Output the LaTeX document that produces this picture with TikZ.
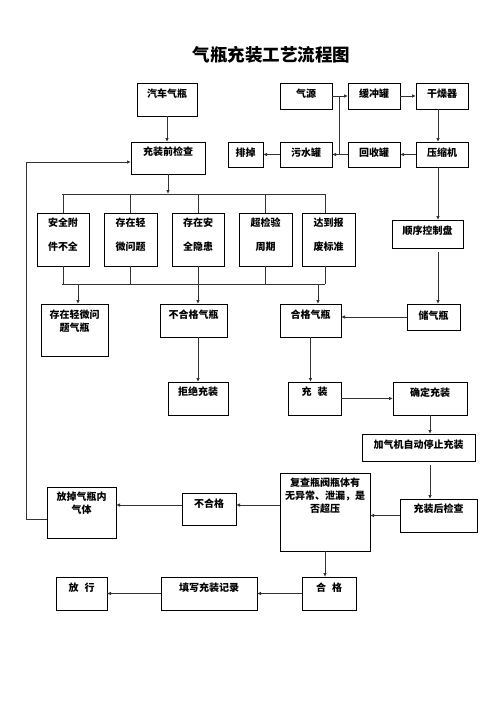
\documentclass[tikz,border=0pt]{standalone}
\usepackage{fontspec}
\setmainfont{Noto Sans CJK SC}
\usetikzlibrary{arrows.meta}
\newcommand\bx[7]{%
  \node[box,anchor=north west,minimum width={(#4-#2)*1pt},minimum height={(#5-#3)*1pt}] (#1) at (#2,#3) {};
  \node[txt] (#1t) at ({(#2+#4)/2},#6) {#7};}
\begin{document}
\begin{tikzpicture}[x=1pt,y=-1pt,
  box/.style={draw=black,line width=0.8pt,inner sep=0pt,outer sep=0pt,fill=white},
  txt/.style={inner sep=0pt,font=\fontsize{10}{13}\selectfont\bfseries,align=center},
  arr/.style={draw=black!80,line width=0.8pt,-{Latex[length=4pt,width=3.5pt]}},
  ln/.style={draw=black!80,line width=0.8pt}]
\useasboundingbox[fill=white] (0,0) rectangle (496,702);
\node[font=\fontsize{17.5}{20}\selectfont\bfseries] (title) at (271.5,55) {气瓶充装工艺流程图};
\bx{qiche}{137}{83}{197}{116}{94}{汽车气瓶}
\bx{jc}{131}{142}{205}{174}{152}{充装前检查}
\bx{paidiao}{228}{142}{263}{167}{153}{排掉}
\bx{qiyuan}{280}{83}{332}{109}{94}{气源}
\bx{hcg}{348}{83}{400}{109}{94}{缓冲罐}
\bx{gzq}{416}{83}{468}{109}{94}{干燥器}
\bx{wsg}{280}{142}{332}{167}{153}{污水罐}
\bx{hsg}{348}{142}{400}{167}{153}{回收罐}
\bx{ysj}{416}{142}{468}{167}{153}{压缩机}
\bx{sxk}{392}{220}{463}{248}{231}{顺序控制盘}
\bx{cqp}{407}{304}{460}{330}{316}{储气瓶}
\bx{ma}{37}{213}{89}{266}{235}{安全附\\[11pt]件不全}
\bx{mb}{104}{213}{157}{266}{235}{存在轻\\[11pt]微问题}
\bx{mc}{172}{213}{224}{266}{235}{存在安\\[11pt]全隐患}
\bx{md}{239}{213}{292}{266}{235}{超检验\\[11pt]周期}
\bx{me}{302}{213}{355}{266}{235}{达到报\\[11pt]废标准}
\bx{qw}{41}{304}{108}{356}{321}{存在轻微问\\题气瓶}
\bx{bhg}{160}{304}{227}{337}{315}{不合格气瓶}
\bx{hg}{280}{304}{341}{337}{315}{合格气瓶}
\bx{jj}{168}{382}{228}{415}{392}{拒绝充装}
\bx{cz}{288}{382}{341}{415}{392}{充\hspace{0.6em}装}
\bx{qd}{393}{382}{467}{415}{393}{确定充装}
\bx{jqj}{362}{434}{475}{461}{445}{加气机自动停止充装}
\bx{czh}{400}{499}{477}{532}{509}{充装后检查}
\bx{fc}{280}{473}{370}{551}{496}{复查瓶阀瓶体有\\无异常、泄漏，是\\否超压}
\bx{bhgb}{182}{493}{236}{525}{504}{不合格}
\bx{fd}{47}{487}{116}{538}{503.5}{放掉气瓶内\\气体}
\bx{fx}{56}{577}{107}{610}{588}{放\hspace{0.6em}行}
\bx{tx}{161}{577}{257}{610}{588}{填写充装记录}
\bx{hgb}{302}{577}{356}{610}{588}{合\hspace{0.6em}格}
% coordinates
\coordinate (cx) at (438,0);
\coordinate (vj) at (339,0);
\coordinate (g1) at (438,252);
\coordinate (g2) at (430,465);
\coordinate (t1) at (62,194);
\coordinate (t5) at (325,194);
\coordinate (u1) at (62,284);
\coordinate (u5) at (325,284);
\coordinate (d1) at (78,284);
\coordinate (d3) at (318,284);
\coordinate (r1) at (0,505);
\coordinate (fb) at (26,519);
\coordinate (fb2) at (26,162);
% top system
\draw[arr] (qiche.south) -- (qiche.south |- jc.north);
\draw[arr] (qiyuan.east) -- (hcg.west);
\draw[arr] (hcg.east) -- (gzq.west);
\draw[arr] (cx |- gzq.south) -- (cx |- ysj.north);
\draw[arr] (ysj.west) -- (hsg.east);
\draw[arr] (hsg.west) -- (wsg.east);
\draw[ln] (vj |- hcg.west) -- (vj |- hsg.west);
\draw[arr] (wsg.west) -- (paidiao.east);
\draw[arr] (cx |- ysj.south) -- (cx |- sxk.north);
\draw[arr] (g1) -- (g1 |- cqp.north);
\draw[arr] (cqp.west) -- (cqp.west -| hg.east);
% branches
\draw[arr] (jc.south) -- (jc.south |- t1);
\draw[ln] (t1) -- (t5);
\draw[ln] (ma.north |- t1) -- (ma.north);
\draw[ln] (mb.north |- t1) -- (mb.north);
\draw[ln] (mc.north |- t1) -- (mc.north);
\draw[ln] (md.north |- t1) -- (md.north);
\draw[ln] (t5) -- (t5 |- me.north);
\draw[ln] (u1) -- (u5);
\draw[ln] (ma.south) -- (ma.south |- u1);
\draw[ln] (mb.south) -- (mb.south |- u1);
\draw[ln] (md.south) -- (md.south |- u1);
\draw[ln] (u5 |- me.south) -- (u5);
\draw[arr] (d1) -- (d1 |- qw.north);
\draw[arr] (mc.south) -- (mc.south |- bhg.north);
\draw[arr] (d3) -- (d3 |- hg.north);
% lower flow
\draw[arr] (jj.north |- bhg.south) -- (jj.north);
\draw[arr] (hg.south) -- (hg.south |- cz.north);
\draw[arr] (cz.east) -- (cz.east -| qd.west);
\draw[arr] (qd.south) -- (qd.south |- jqj.north);
\draw[arr] (g2) -- (g2 |- czh.north);
\draw[arr] (czh.west) -- (czh.west -| fc.east);
\draw[arr] (fc.west |- r1) -- (bhgb.east |- r1);
\draw[arr] (bhgb.west |- r1) -- (fd.east |- r1);
\draw[arr] (fd.west |- fb) -- (fb) -- (fb2) -- (fb2 -| jc.west);
\draw[arr] (fc.south) -- (fc.south |- hgb.north);
\draw[arr] (hgb.west) -- (hgb.west -| tx.east);
\draw[arr] (tx.west) -- (tx.west -| fx.east);
\end{tikzpicture}
\end{document}
